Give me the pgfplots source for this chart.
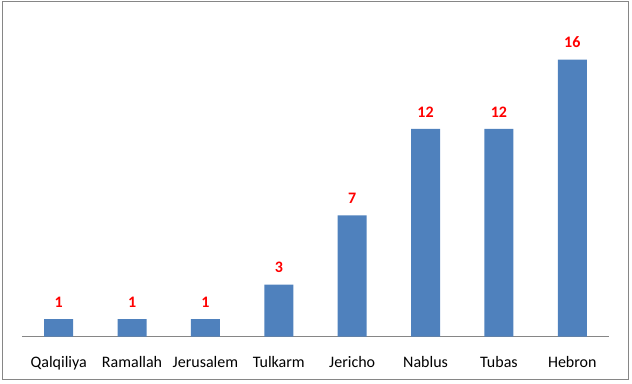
\documentclass[border=0pt]{standalone}
\usepackage{pgfplots}
\pgfplotsset{compat=1.18}
\usepackage{fontspec}
\setmainfont{Carlito}
\definecolor{barblue}{HTML}{4F81BD}
\definecolor{lblred}{HTML}{FF0000}
\definecolor{framegray}{HTML}{868686}
\begin{document}
\begin{tikzpicture}
\useasboundingbox (-16.5pt,-34.875pt) rectangle (457.5pt,252.375pt);
\draw[framegray, line width=0.75pt] (-14.25pt,-32.6pt) rectangle (454.5pt,250.9pt);
\begin{axis}[
  at={(0,0)}, anchor=south west,
  scale only axis,
  width=440.25pt, height=233.6pt,
  xmin=-0.5, xmax=7.5, ymin=0, ymax=18,
  enlargelimits=false,
  hide y axis,
  axis x line*=bottom,
  x axis line style={draw=framegray, line width=0.75pt, -},
  xtick=data,
  xticklabels={Qalqiliya,Ramallah,Jerusalem,Tulkarm,Jericho,Nablus,Tubas,Hebron},
  xtick style={draw=none},
  xticklabel style={font=\fontsize{12}{14}\selectfont, yshift=-7.2pt},
  /pgf/number format/assume math mode=true,
  ybar, bar width=21.75pt,
  nodes near coords,
  every node near coord/.append style={font=\fontsize{12}{14}\selectfont\bfseries, text=lblred, yshift=5.3pt},
]
\addplot[fill=barblue, draw=none] coordinates {(0,1) (1,1) (2,1) (3,3) (4,7) (5,12) (6,12) (7,16)};
\end{axis}
\end{tikzpicture}
\end{document}
